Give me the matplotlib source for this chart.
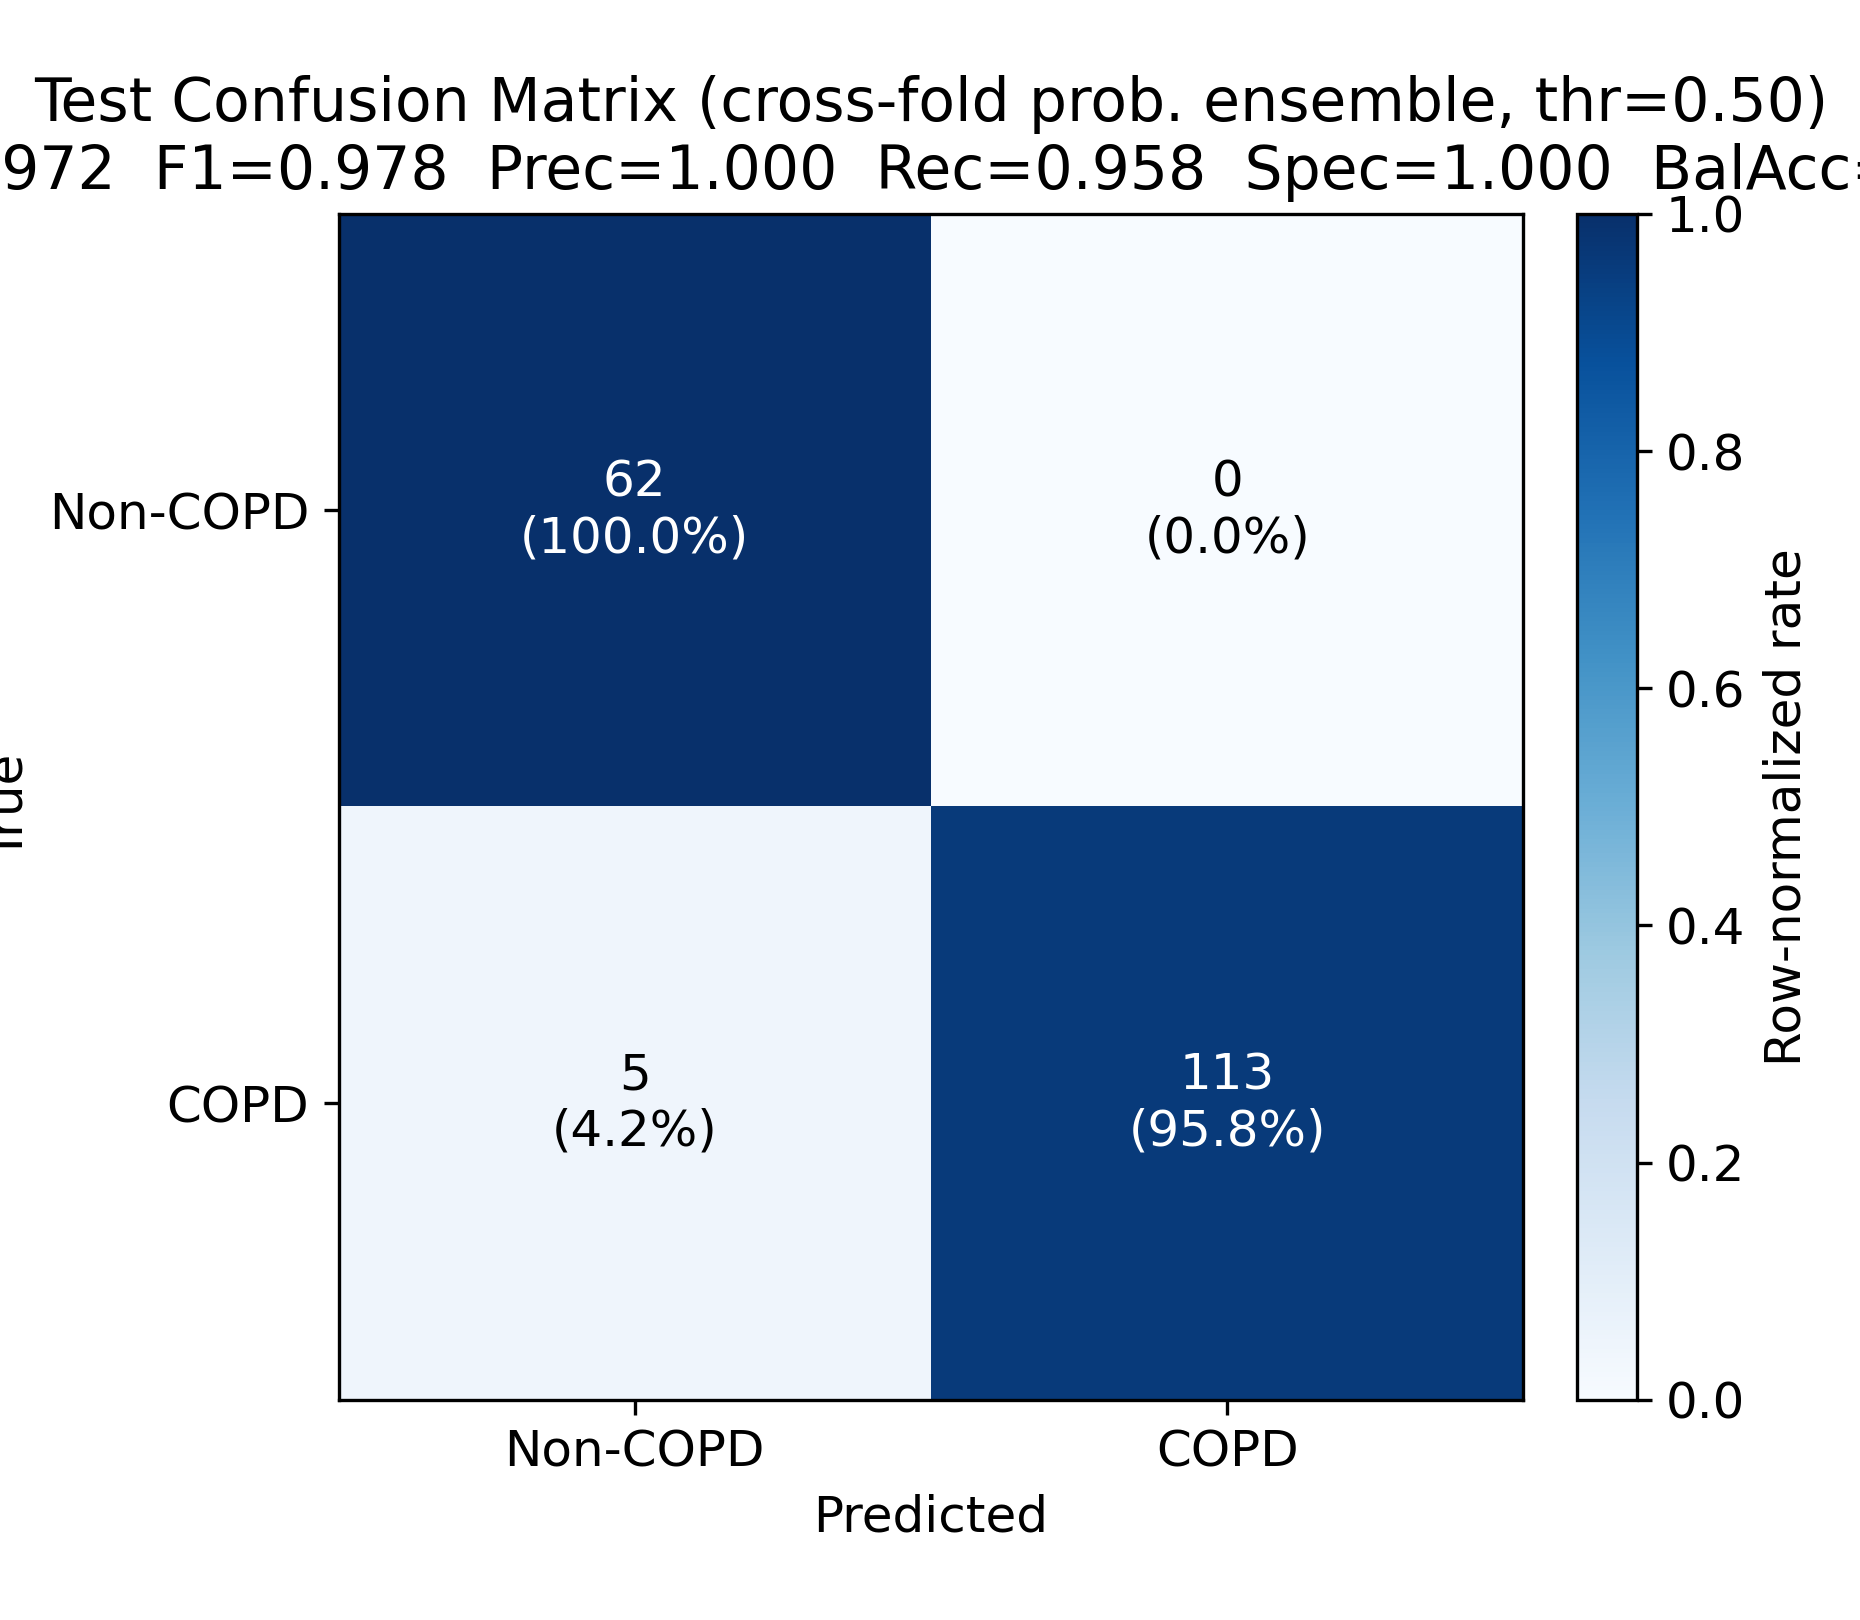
import numpy as np
import matplotlib
matplotlib.use("Agg")
import matplotlib.pyplot as plt

plt.rcParams["font.size"] = 12

# ── Data ──────────────────────────────────────────────────────────────────────
class_names = ["Non-COPD", "COPD"]
counts = np.array([[62, 0],
                   [5, 113]])
title = ("Test Confusion Matrix (cross-fold prob. ensemble, thr=0.50)\n"
         "Acc=0.972  F1=0.978  Prec=1.000  Rec=0.958  Spec=1.000  BalAcc=0.979")

rates = counts / counts.sum(axis=1, keepdims=True)

fig = plt.figure(figsize=(6.2, 5.4), dpi=300)
ax = fig.add_axes([0.182, 0.136, 0.637, 0.732])
cax = fig.add_axes([0.848, 0.136, 0.032, 0.732])

im = ax.imshow(rates, cmap="Blues", vmin=0, vmax=1, aspect="auto")
cb = fig.colorbar(im, cax=cax)
cb.set_label("Row-normalized rate")

ax.set_xticks(range(2), class_names)
ax.set_yticks(range(2), class_names)
ax.set_xlabel("Predicted")
ax.set_ylabel("True")
ax.set_title(title)

for i in range(2):
    for j in range(2):
        color = "white" if rates[i, j] > 0.5 else "black"
        ax.text(j, i, f"{counts[i, j]}\n({rates[i, j] * 100:.1f}%)",
                ha="center", va="center", color=color)

fig.savefig("out.png", dpi=300)
